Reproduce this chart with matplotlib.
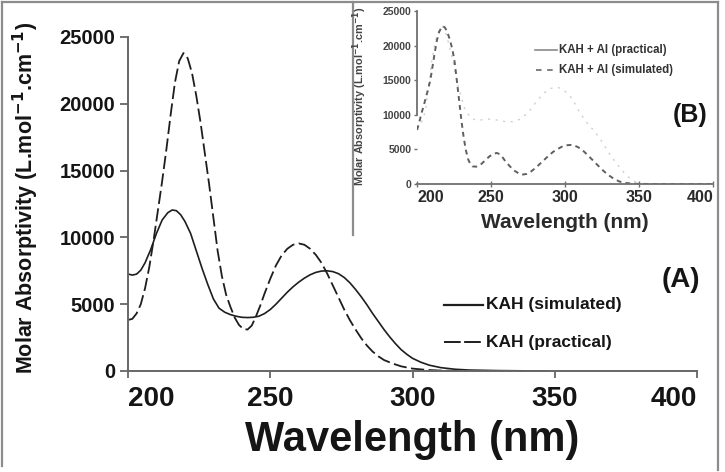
import matplotlib
matplotlib.use("Agg")
import matplotlib.pyplot as plt
from matplotlib.lines import Line2D

plt.rcParams['font.family'] = ['Liberation Sans', 'DejaVu Sans']
plt.rcParams['font.weight'] = 'bold'
plt.rcParams['lines.scale_dashes'] = False

# ---------------- data (A) ----------------
wl_sim = [200, 201.5, 203, 204.5, 206, 208, 210, 212, 214, 215.5, 217, 218.5, 220, 222, 224,
          226, 228, 230, 232, 234, 236, 238, 240, 242, 244, 246, 248, 250, 252, 254, 256,
          258, 260, 262, 264, 266, 268, 270, 272, 274, 276, 278, 280, 282, 284, 286, 288,
          290, 292, 294, 296, 298, 300, 303, 306, 310, 315, 320, 330, 340, 347]
val_sim = [7260, 7180, 7250, 7550, 8100, 9100, 10300, 11300, 11850, 12050, 12000, 11700, 11200,
           10300, 9000, 7700, 6500, 5400, 4700, 4400, 4220, 4100, 4020, 4000, 4020, 4100,
           4300, 4600, 5000, 5450, 5900, 6300, 6650, 6950, 7200, 7380, 7480, 7500, 7440,
           7280, 7000, 6600, 6100, 5550, 4950, 4300, 3700, 3100, 2550, 2050, 1600, 1250,
           950, 650, 430, 250, 130, 70, 30, 10, 0]

wl_pr = [200, 201.5, 203, 204.5, 206, 207.5, 209, 210.5, 212, 213.5, 215, 216.5, 218, 219.5,
         221, 222.5, 224, 225.5, 227, 228.5, 230, 231.5, 233, 234.5, 236, 237.5, 239, 240.5,
         242, 243.5, 245, 246.5, 248, 250, 252, 254, 256, 258, 260, 262, 264, 266, 268,
         270, 272, 274, 276, 278, 280, 282, 284, 286, 288, 290, 293, 296, 300, 305, 310, 320]
val_pr = [3820, 3900, 4300, 5000, 6200, 7800, 9800, 12000, 14200, 16600, 19200, 21600, 23200,
          23800, 23400, 22300, 20600, 18600, 16300, 14000, 11500, 9000, 7100, 5700, 4800,
          4000, 3450, 3150, 3100, 3400, 4100, 4900, 5800, 6900, 7900, 8650, 9150, 9450, 9550,
          9450, 9150, 8700, 8100, 7300, 6400, 5500, 4600, 3800, 3100, 2450, 1900, 1450, 1100,
          820, 560, 350, 180, 80, 30, 0]

# ---------------- data (B) ----------------
wl_b_sim = [200, 201.5, 203, 204.5, 206, 207.5, 209, 210.5, 212, 213.5, 215, 217, 218.5, 220,
            222, 224, 225.5, 227, 228.5, 230, 231.5, 233, 234.5, 236, 237.5, 240, 243, 246,
            249, 252, 254, 256, 258, 260, 263, 266, 269, 271, 274, 277, 280, 283, 286, 289,
            292, 295, 298, 301, 304, 306, 309, 312, 315, 318, 321, 324, 327, 330, 333, 337,
            341, 345, 350, 360, 370, 380, 390, 400]
val_b_sim = [7800, 8900, 10200, 11300, 12500, 13700, 15000, 17000, 19000, 20800, 22000, 22800,
             22700, 22200, 21000, 19400, 17500, 14800, 12000, 9200, 6800, 4900, 3600, 2900,
             2550, 2500, 2800, 3400, 4000, 4400, 4480, 4300, 3800, 3200, 2500, 1900, 1500,
             1350, 1450, 1800, 2300, 2900, 3500, 4100, 4650, 5050, 5400, 5600, 5640, 5600,
             5300, 4850, 4250, 3600, 2950, 2300, 1700, 1200, 750, 340, 150, 60, 20, 0, 0, 0,
             0, 0]

wl_b_pr = [200, 202, 204, 206, 208, 210, 212, 214, 217, 220, 224, 228, 232, 236, 240, 245,
           250, 255, 260, 265, 270, 275, 280, 285, 290, 295, 300, 305, 310, 315, 320, 325,
           330, 335, 340, 345, 350]
val_b_pr = [8000, 8600, 9300, 11000, 14500, 17800, 20300, 21800, 22800, 21500, 18000, 14000,
            11000, 9600, 9200, 9300, 9400, 9200, 9000, 9000, 9400, 10300, 11700, 13000, 13800,
            14000, 13400, 12300, 10300, 8800, 7600, 6100, 4400, 2900, 1600, 600, 0]

xticks = [200, 250, 300, 350, 400]
yticks = [0, 5000, 10000, 15000, 20000, 25000]

W, H = 725, 472
fig = plt.figure(figsize=(W / 100, H / 100), dpi=100)


def fx(x):
    return x / W


def fy(y):
    return 1 - y / H


spine_c = '#666666'
ink = '#151515'

# ---------------- main axes ----------------
ax = fig.add_axes([fx(128), fy(371), (697 - 128) / W, (371 - 37) / H])
ax.set_facecolor('none')
ax.plot(wl_sim, val_sim, color='#1e1e1e', lw=1.2, solid_joinstyle='round')
ax.plot(wl_pr, val_pr, color='#1e1e1e', lw=1.3, dashes=(9.5, 3.2))
ax.set_xlim(200, 400)
ax.set_ylim(0, 25000)
for s in ['top', 'right']:
    ax.spines[s].set_visible(False)
for s in ['left', 'bottom']:
    ax.spines[s].set_color(spine_c)
    ax.spines[s].set_linewidth(1.4)
ax.set_xticks(xticks)
ax.set_xticklabels([str(t) for t in xticks])
ax.set_yticks(yticks)
ax.set_yticklabels([str(t) for t in yticks])
ax.tick_params(axis='x', direction='out', length=5, width=1.3, color=spine_c,
               labelsize=20, pad=6, labelcolor=ink)
ax.tick_params(axis='y', direction='out', length=6, width=1.3, color=spine_c,
               labelsize=14.5, pad=3, labelcolor=ink)
xl = ax.get_xticklabels()
xl[0].set_ha('left')
xl[-1].set_ha('right')
for t in ax.get_xticklabels() + ax.get_yticklabels():
    t.set_fontweight('bold')

fig.text(fx(412), fy(440), 'Wavelength (nm)', fontsize=30, fontweight='bold',
         ha='center', va='center', color=ink)
fig.text(fx(26), fy(198), 'Molar Absorptivity (L.mol$^{\\mathbf{-1}}$.cm$^{\\mathbf{-1}}$)',
         fontsize=15.5, fontweight='bold', rotation=90, ha='center', va='center', color=ink)

fig.text(fx(700), fy(280), '(A)', fontsize=20, fontweight='bold', ha='right',
         va='center', color=ink)
fig.lines.append(Line2D([fx(444), fx(483)], [fy(305), fy(305)], transform=fig.transFigure,
                        color='#1e1e1e', lw=1.6))
fig.lines.append(Line2D([fx(444), fx(483)], [fy(342), fy(342)], transform=fig.transFigure,
                        color='#1e1e1e', lw=1.4, dashes=(12, 2.5)))
fig.text(fx(486), fy(305), 'KAH (simulated)', fontsize=12.5, fontweight='bold',
         ha='left', va='center', color=ink)
fig.text(fx(486), fy(342), 'KAH (practical)', fontsize=12.5, fontweight='bold',
         ha='left', va='center', color=ink)

# ---------------- inset axes ----------------
ins = fig.add_axes([fx(417), fy(184), (713 - 417) / W, (184 - 11) / H])
ins.set_facecolor('white')
ins.plot(wl_b_pr, val_b_pr, color='#cfcfcf', lw=1.0, dashes=(1.5, 4.0))
ins.plot(wl_b_sim, val_b_sim, color='#5f5f5f', lw=1.4, dashes=(3.5, 3.0))
ins.set_xlim(200, 400)
ins.set_ylim(0, 25000)
for s in ['top', 'right']:
    ins.spines[s].set_visible(False)
for s in ['left', 'bottom']:
    ins.spines[s].set_color('#707070')
    ins.spines[s].set_linewidth(1.3)
ins.spines['left'].set_bounds(10000, 25000)
ins.set_xticks(xticks)
ins.set_xticklabels([str(t) for t in xticks])
ins.set_yticks(yticks)
ins.set_yticklabels([str(t) for t in yticks])
ins.tick_params(axis='x', direction='inout', length=4, width=1.0, color='#707070',
                labelsize=11.5, pad=2, labelcolor='#2a2a2a')
ins.tick_params(axis='y', direction='out', length=2.5, width=1.0, color='#707070',
                labelsize=7.5, pad=1.5, labelcolor='#444444')
il = ins.get_xticklabels()
il[0].set_ha('left')
il[-1].set_ha('right')
for t in ins.get_xticklabels() + ins.get_yticklabels():
    t.set_fontweight('bold')

fig.text(fx(565), fy(222), 'Wavelength (nm)', fontsize=15, fontweight='bold',
         ha='center', va='center', color='#2a2a2a')
fig.text(fx(360), fy(96), 'Molar Absorptivity (L.mol$^{\\mathbf{-1}}$.cm$^{\\mathbf{-1}}$)',
         fontsize=7.8, fontweight='bold', rotation=90, ha='center', va='center',
         color='#444444')
fig.text(fx(708), fy(115), '(B)', fontsize=18, fontweight='bold', ha='right',
         va='center', color=ink)
fig.lines.append(Line2D([fx(535), fx(557)], [fy(50), fy(50)], transform=fig.transFigure,
                        color='#8a8a8a', lw=1.2))
fig.lines.append(Line2D([fx(536), fx(557)], [fy(70), fy(70)], transform=fig.transFigure,
                        color='#6a6a6a', lw=1.2, dashes=(4, 4)))
fig.text(fx(559), fy(50), 'KAH + Al (practical)', fontsize=8.3, fontweight='bold',
         ha='left', va='center', color='#333333')
fig.text(fx(559), fy(70), 'KAH + Al (simulated)', fontsize=8.3, fontweight='bold',
         ha='left', va='center', color='#333333')

# ---------------- frames ----------------
frame_c = '#8c8c8c'
fig.lines.append(Line2D([fx(2), fx(718)], [fy(2), fy(2)], transform=fig.transFigure,
                        color=frame_c, lw=1.6))
fig.lines.append(Line2D([fx(1.5), fx(1.5)], [fy(2), fy(466)], transform=fig.transFigure,
                        color=frame_c, lw=1.6))
fig.lines.append(Line2D([fx(718), fx(718)], [fy(2), fy(470)], transform=fig.transFigure,
                        color=frame_c, lw=1.6))
fig.lines.append(Line2D([fx(353), fx(353)], [fy(2), fy(235)], transform=fig.transFigure,
                        color=frame_c, lw=1.6))

fig.savefig('out.png', dpi=100)
